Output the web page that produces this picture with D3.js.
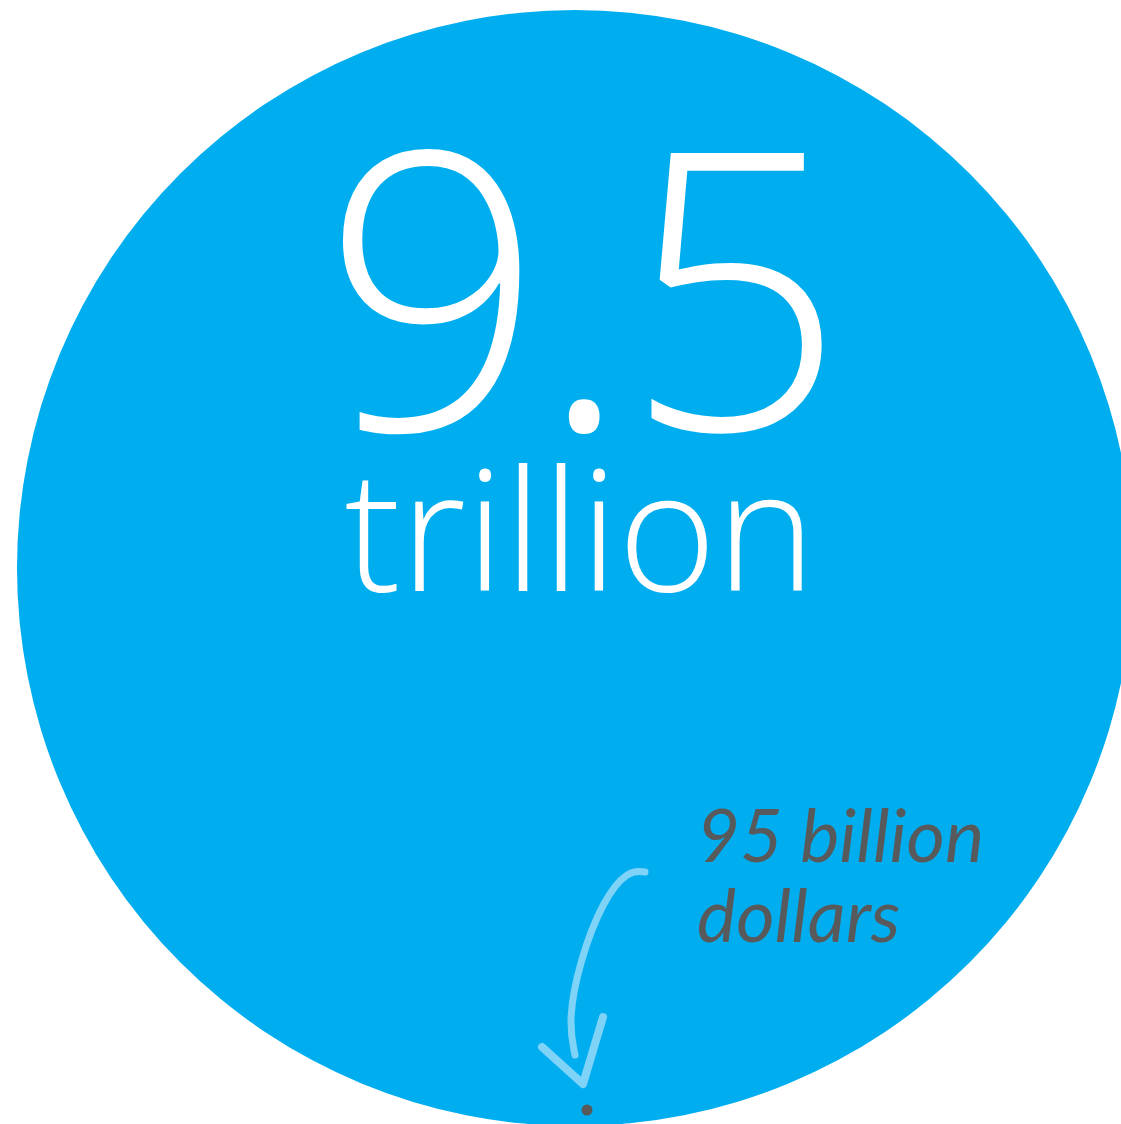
<!DOCTYPE html>
<html>
<head>
<meta charset="utf-8">
<script src="https://cdn.jsdelivr.net/npm/d3@7"></script>
<style>
  html, body { margin: 0; padding: 0; background: #fff; overflow: hidden; }
</style>
</head>
<body>
<div id="chart"></div>
<script>
// Values shown in the picture
const amounts = [9.5e12, 95e9];
const bigLabel = ['9.5', 'trillion'];
const noteLines = ['95 billion', 'dollars'];

const width = 1121, height = 1124;
const cx = 575, cy = 568;

const svg = d3.select('#chart')
    .append('svg')
    .attr('width', width)
    .attr('height', height);

// big circle sized from the total
const rScale = d3.scaleSqrt()
    .domain([0, amounts[0]])
    .range([0, 558]);

svg.append('circle')
    .attr('cx', cx)
    .attr('cy', cy)
    .attr('r', rScale(amounts[0]))
    .attr('fill', '#00aeef');

// headline number
svg.append('text')
    .attr('x', 581)
    .attr('y', 430)
    .attr('text-anchor', 'middle')
    .style('font-family', '"Open Sans", sans-serif')
    .style('font-weight', 300)
    .style('font-size', '388px')
    .style('letter-spacing', '-6px')
    .style('fill', '#fff')
    .text(bigLabel[0]);

svg.append('text')
    .attr('x', 580)
    .attr('y', 591)
    .attr('text-anchor', 'middle')
    .style('font-family', '"Open Sans", sans-serif')
    .style('font-weight', 300)
    .style('font-size', '168px')
    .style('fill', '#fff')
    .text(bigLabel[1]);

// hand written note
svg.selectAll('.note')
    .data(noteLines)
    .enter()
    .append('text')
    .attr('class', 'note')
    .attr('x', 697)
    .attr('y', (d, i) => 862 + i * 80)
    .style('font-family', 'Lato, sans-serif')
    .style('font-style', 'italic')
    .style('font-weight', 400)
    .style('font-size', '74px')
    .style('fill', '#58595b')
    .text(d => d);

// arrow
const line = d3.line().curve(d3.curveBasis);
svg.append('path')
    .attr('d', line([[645, 872], [628, 870], [603, 900], [580, 960], [568, 1020], [575, 1055]]))
    .attr('fill', 'none')
    .attr('stroke', '#7fd3f7')
    .attr('stroke-width', 7)
    .attr('stroke-linecap', 'round');

svg.append('path')
    .attr('d', d3.line()([[542, 1047], [583, 1084], [603, 1017]]))
    .attr('fill', 'none')
    .attr('stroke', '#7fd3f7')
    .attr('stroke-width', 8)
    .attr('stroke-linecap', 'round')
    .attr('stroke-linejoin', 'round');

// small dot for the 95 billion
svg.append('circle')
    .datum(amounts[1])
    .attr('cx', 587)
    .attr('cy', 1110)
    .attr('r', 5.5)
    .attr('fill', '#58595b');
</script>
</body>
</html>
